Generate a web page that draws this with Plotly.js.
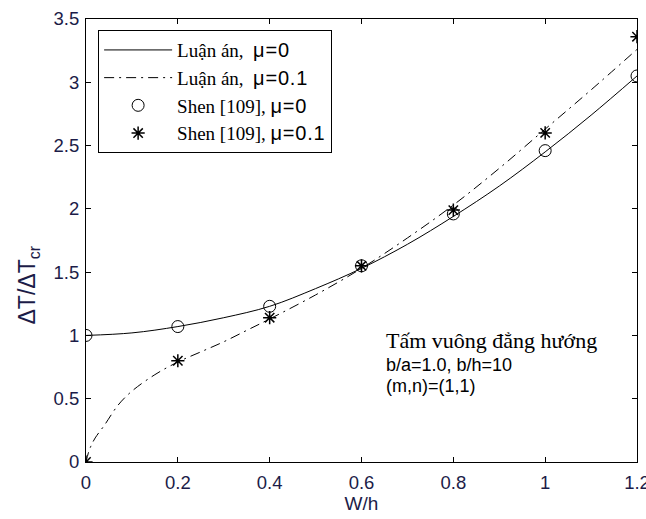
<!DOCTYPE html>
<html><head><meta charset="utf-8">
<script src="https://cdn.plot.ly/plotly-3.0.1.min.js"></script>
<style>html,body{margin:0;padding:0;background:#fff}</style>
</head><body>
<div id="chart" style="width:646px;height:519px"></div>
<script>
// Curve: Luận án, μ=0
const lineX0 = [0, 0.1, 0.2, 0.3, 0.4, 0.5, 0.6, 0.7, 0.8, 0.9, 1.0, 1.1, 1.2];
const lineY0 = [1.0, 1.02, 1.07, 1.14, 1.23, 1.37, 1.53, 1.72, 1.94, 2.18, 2.45, 2.74, 3.05];
// Curve: Luận án, μ=0.1
const lineX1 = [0, 0.005, 0.01, 0.02, 0.04, 0.07, 0.1, 0.15, 0.2, 0.25, 0.3, 0.35, 0.4, 0.5, 0.6, 0.7, 0.8, 0.9, 1.0, 1.1, 1.2];
const lineY1 = [0, 0.07, 0.12, 0.19, 0.29, 0.45, 0.56, 0.69, 0.79, 0.87, 0.95, 1.04, 1.13, 1.32, 1.53, 1.77, 2.03, 2.32, 2.63, 2.94, 3.26];
// Shen [109]
const shenX = [0, 0.2, 0.4, 0.6, 0.8, 1.0, 1.2];
const shenY0 = [1.0, 1.07, 1.23, 1.55, 1.96, 2.46, 3.05];
const shenY1 = [0, 0.80, 1.14, 1.55, 1.99, 2.60, 3.36];

const xTicks = [0, 0.2, 0.4, 0.6, 0.8, 1, 1.2];
const xTickText = ['0', '0.2', '0.4', '0.6', '0.8', '1', '1.2'];
const yTicks = [0, 0.5, 1, 1.5, 2, 2.5, 3, 3.5];
const yTickText = ['0', '0.5', '1', '1.5', '2', '2.5', '3', '3.5'];

const serif = '"Liberation Serif", "Times New Roman", serif';
const sans = '"Liberation Sans", Arial, sans-serif';
const sansAttr = sans.replace(/"/g, "'");
const mu = (v) => '<span style="font-family:' + sansAttr + ';font-size:20px;letter-spacing:0.8px">μ=' + v + '</span>';
const axisColor = '#1c1c48';

const traces = [
  {x: lineX0, y: lineY0, mode: 'lines', line: {color: '#000', width: 1, shape: 'spline'},
   name: 'Luận án,  ' + mu('0')},
  {x: lineX1, y: lineY1, mode: 'lines', line: {color: '#000', width: 1, dash: '10px,5px,2px,5px', shape: 'spline'},
   name: 'Luận án,  ' + mu('0.1')},
  {x: shenX, y: shenY0, mode: 'markers', marker: {symbol: 'circle-open', size: 12, color: '#000', line: {width: 1}},
   name: 'Shen [109], ' + mu('0')},
  {x: shenX, y: shenY1, mode: 'markers', marker: {symbol: 'asterisk-open', size: 11, color: '#000', line: {width: 1.5, color: '#000'}},
   name: 'Shen [109], ' + mu('0.1')}
];

const axCommon = {
  showgrid: false, zeroline: false, showline: true, linecolor: '#000', linewidth: 1,
  mirror: 'allticks', ticks: 'inside', ticklen: 5, tickcolor: '#000',
  tickfont: {family: sans, size: 18.5, color: axisColor}, ticklabeloverflow: 'allow'
};

const layout = {
  width: 646, height: 519,
  margin: {l: 86, r: 9, t: 19, b: 57},
  paper_bgcolor: '#fff', plot_bgcolor: '#fff',
  showlegend: true,
  legend: {x: 0.022, y: 0.975, xanchor: 'left', yanchor: 'top',
    bordercolor: '#000', borderwidth: 1, bgcolor: '#fff',
    font: {family: serif, size: 19, color: '#000'}, itemwidth: 68, tracegroupgap: 0},
  xaxis: Object.assign({}, axCommon, {range: [0, 1.2], tickvals: xTicks, ticktext: xTickText, ticklabelstandoff: 4,
    title: {text: 'W/h', font: {family: sans, size: 19, color: axisColor}, standoff: 0}}),
  yaxis: Object.assign({}, axCommon, {range: [0, 3.5], tickvals: yTicks, ticktext: yTickText, ticklabelstandoff: 2}),
  annotations: [
    {xref: 'paper', yref: 'paper', x: -0.104, y: 0.40, xanchor: 'center', yanchor: 'middle', showarrow: false,
     textangle: -90, text: 'ΔT/ΔT<sub>cr</sub>', font: {family: sans, size: 23, color: axisColor}},
    {xref: 'paper', yref: 'paper', x: 0.540, y: 0.274, xanchor: 'left', yanchor: 'middle', showarrow: false,
     text: 'Tấm vuông đẳng hướng', font: {family: serif, size: 22, color: '#000'}},
    {xref: 'paper', yref: 'paper', x: 0.540, y: 0.219, xanchor: 'left', yanchor: 'middle', showarrow: false,
     text: 'b/a=1.0, b/h=10', font: {family: sans, size: 18, color: '#000'}},
    {xref: 'paper', yref: 'paper', x: 0.540, y: 0.172, xanchor: 'left', yanchor: 'middle', showarrow: false,
     text: '(m,n)=(1,1)', font: {family: sans, size: 18, color: '#000'}}
  ]
};

Plotly.newPlot('chart', traces, layout, {displayModeBar: false, staticPlot: true});
</script>
</body></html>
